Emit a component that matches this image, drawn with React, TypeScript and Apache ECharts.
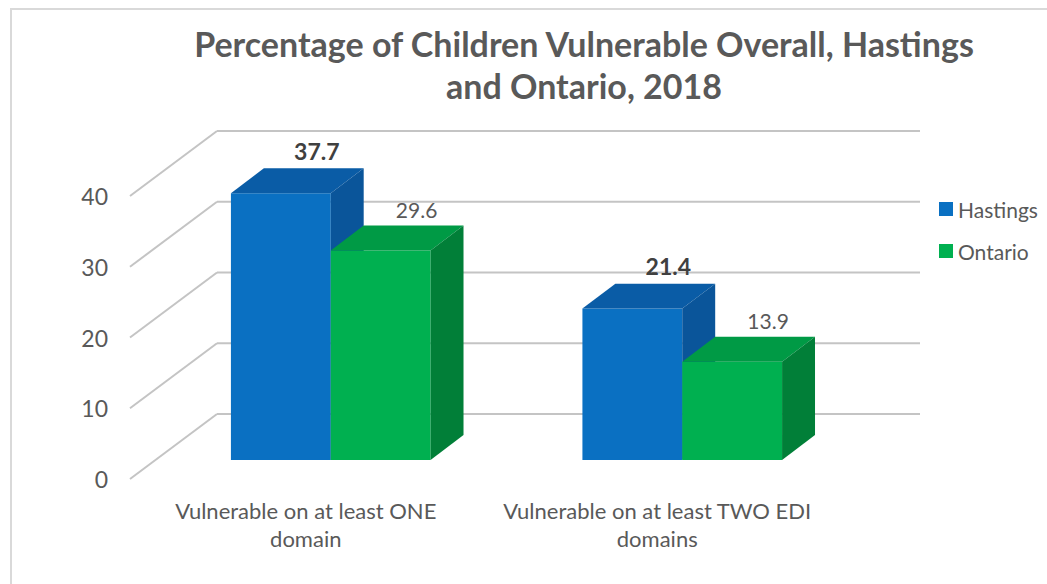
import React, { useEffect, useRef } from "react";
import * as echarts from "echarts";

const categories = ["Vulnerable on at least ONE\ndomain", "Vulnerable on at least TWO EDI\ndomains"];
const seriesNames = ["Hastings", "Ontario"];
const hastingsValues = [37.7, 21.4];
const ontarioValues = [29.6, 13.9];
const yTicks = [0, 10, 20, 30, 40];
const titleLines = ["Percentage of Children Vulnerable Overall, Hastings", "and Ontario, 2018"];

const TEXT = "#595959";
const FONT = "Lato, 'Open Sans', sans-serif";
const GRID_COLOR = "#c4c4c4";

// 3D geometry (pixels relative to the bar front plane)
const WALL_FRONT = [-25, 19];
const WALL_BACK = [62, -46];
const BAR_FRAC = 0.284; // bar width as fraction of the category band
const DEPTH_X = 0.33; // bar depth offsets relative to bar width
const DEPTH_Y = 0.25;

const palettes = [
  { front: "#0a70c2", top: "#0a5ca6", side: "#0a559a", bold: true },
  { front: "#00b050", top: "#009a45", side: "#017f38", bold: false },
];

function makeBarRenderer(idx: number) {
  const pal = palettes[idx];
  return (params: any, api: any) => {
    const cat = api.value(0);
    const v = api.value(1);
    const base = api.coord([cat, 0]);
    const top = api.coord([cat, v]);
    const bw = api.size([1, 0])[0] * BAR_FRAC;
    const dx = bw * DEPTH_X;
    const dy = bw * DEPTH_Y;
    const x0 = base[0] - bw + idx * bw;
    const yb = base[1];
    const yt = top[1];
    return {
      type: "group",
      children: [
        {
          type: "rect",
          shape: { x: x0, y: yt, width: bw, height: yb - yt },
          style: { fill: pal.front },
        },
        {
          type: "polygon",
          shape: { points: [[x0, yt], [x0 + bw, yt], [x0 + bw + dx, yt - dy], [x0 + dx, yt - dy]] },
          style: { fill: pal.top },
        },
        {
          type: "polygon",
          shape: { points: [[x0 + bw, yt], [x0 + bw + dx, yt - dy], [x0 + bw + dx, yb - dy], [x0 + bw, yb]] },
          style: { fill: pal.side },
        },
        {
          type: "text",
          x: x0 + bw / 2 + dx + 3,
          y: yt - dy - 6,
          style: {
            text: String(v),
            fill: pal.bold ? "#404040" : TEXT,
            font: `${pal.bold ? "bold 23px" : "21px"} ${FONT}`,
            textAlign: "center",
            textVerticalAlign: "bottom",
          },
        },
      ],
    };
  };
}

function renderWall(params: any, api: any) {
  const v = api.value(1);
  const cs = params.coordSys;
  const y = api.coord([0, v])[1];
  const xl = cs.x;
  const xr = cs.x + cs.width;
  return {
    type: "group",
    children: [
      {
        type: "line",
        shape: { x1: xl + WALL_FRONT[0], y1: y + WALL_FRONT[1], x2: xl + WALL_BACK[0], y2: y + WALL_BACK[1] },
        style: { stroke: GRID_COLOR, lineWidth: 2 },
      },
      {
        type: "line",
        shape: { x1: xl + WALL_BACK[0], y1: y + WALL_BACK[1], x2: xr + WALL_BACK[0], y2: y + WALL_BACK[1] },
        style: { stroke: GRID_COLOR, lineWidth: 2 },
      },
      {
        type: "text",
        x: xl + WALL_FRONT[0] - 22,
        y: y + WALL_FRONT[1],
        style: {
          text: String(v),
          fill: TEXT,
          font: `23px ${FONT}`,
          textAlign: "right",
          textVerticalAlign: "middle",
        },
      },
    ],
  };
}

function renderCategory(params: any, api: any) {
  const cat = api.value(0);
  const base = api.coord([cat, 0]);
  return {
    type: "text",
    x: base[0] + WALL_FRONT[0],
    y: base[1] + WALL_FRONT[1] + 17,
    style: {
      text: categories[cat],
      fill: TEXT,
      font: `22px ${FONT}`,
      lineHeight: 28,
      textAlign: "center",
      textVerticalAlign: "top",
    },
  };
}

export default function App() {
  const ref = useRef<HTMLDivElement>(null);
  useEffect(() => {
    if (!ref.current) return;
    const chart = echarts.init(ref.current, undefined, { renderer: "svg" });
    chart.setOption({
      animation: false,
      backgroundColor: "#ffffff",
      title: {
        text: titleLines.join("\n"),
        left: 584,
        top: 22,
        padding: 0,
        textAlign: "center",
        textStyle: { color: TEXT, fontFamily: FONT, fontWeight: "bold", fontSize: 34, lineHeight: 42 },
      },
      legend: {
        orient: "vertical",
        left: 934,
        top: 192,
        itemWidth: 14,
        itemHeight: 14,
        itemGap: 18,
        icon: "rect",
        data: seriesNames,
        textStyle: { color: TEXT, fontFamily: FONT, fontSize: 21, lineHeight: 24 },
      },
      graphic: [
        {
          type: "rect",
          shape: { x: 11, y: 9, width: 1100, height: 700 },
          style: { fill: "none", stroke: "#d9d9d9", lineWidth: 2 },
          silent: true,
        },
      ],
      grid: { left: 155, right: 189, top: 177, bottom: 124 },
      xAxis: { type: "category", data: categories, show: false },
      yAxis: { type: "value", min: 0, max: 40, interval: 10, show: false },
      series: [
        {
          type: "custom",
          name: "wall",
          renderItem: renderWall,
          data: yTicks.map((v) => [0, v]),
          z: 1,
          silent: true,
        },
        {
          type: "custom",
          name: "categories",
          renderItem: renderCategory,
          data: categories.map((_, i) => [i, 0]),
          z: 1,
          silent: true,
        },
        {
          type: "custom",
          name: seriesNames[0],
          renderItem: makeBarRenderer(0),
          itemStyle: { color: palettes[0].front },
          data: hastingsValues.map((v, i) => [i, v]),
          z: 2,
        },
        {
          type: "custom",
          name: seriesNames[1],
          renderItem: makeBarRenderer(1),
          itemStyle: { color: palettes[1].front },
          data: ontarioValues.map((v, i) => [i, v]),
          z: 2,
        },
      ],
    });
    return () => chart.dispose();
  }, []);
  return <div ref={ref} style={{ position: "fixed", left: 0, top: 0, width: 1047, height: 584 }} />;
}
